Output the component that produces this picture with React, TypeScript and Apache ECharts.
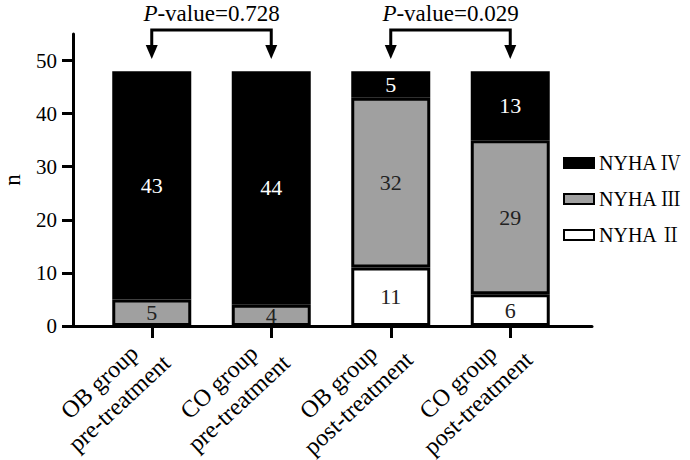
import React, { useEffect, useRef } from 'react';
import * as echarts from 'echarts';

const categories = [
  'OB group\npre-treatment',
  'CO group\npre-treatment',
  'OB group\npost-treatment',
  'CO group\npost-treatment',
];
const nyha2 = [0, 0, 11, 6];
const nyha3 = [5, 4, 32, 29];
const nyha4 = [43, 44, 5, 13];
const yTicks = [0, 10, 20, 30, 40, 50];
const seriesNames = ['NYHA Ⅱ', 'NYHA Ⅲ', 'NYHA Ⅳ'];
const legendOrder = ['NYHA Ⅳ', 'NYHA Ⅲ', 'NYHA Ⅱ'];
const comparisons = [
  { from: 0, to: 1, p: '0.728' },
  { from: 2, to: 3, p: '0.029' },
];

const FONT = "'Liberation Serif', 'Noto Serif CJK SC', 'Noto Sans CJK SC', serif";

export default function App() {
  const ref = useRef<HTMLDivElement>(null);
  useEffect(() => {
    document.body.style.margin = '0';
    if (!ref.current) return;
    const chart = echarts.init(ref.current, null, { renderer: 'svg' });
    const mkBar = (name: string, data: number[], color: string, labelColor: string) => ({
      name,
      type: 'bar',
      stack: 'total',
      xAxisIndex: 0,
      yAxisIndex: 0,
      barWidth: 79,
      data: data.map((v) => (v ? v : null)),
      itemStyle: { color, borderColor: '#000', borderWidth: 3 },
      label: {
        show: true,
        position: 'inside',
        formatter: (p: any) => (p.value ? String(p.value) : ''),
        color: labelColor,
        fontSize: 22,
        fontFamily: FONT,
      },
    });
    chart.setOption({
      animation: false,
      backgroundColor: '#fff',
      grid: [
        { left: 92, right: 120, top: 34, bottom: 134, containLabel: false, outerBoundsMode: 'none' },
        { left: 73, right: 98, top: 34, bottom: 134, containLabel: false, outerBoundsMode: 'none' },
      ],
      legend: {
        orient: 'vertical',
        left: 558,
        top: 148,
        icon: 'rect',
        itemWidth: 30,
        itemHeight: 10,
        itemGap: 16,
        data: legendOrder,
        textStyle: { fontSize: 20, fontFamily: FONT, color: '#000' },
      },
      xAxis: [
        {
          type: 'category',
          gridIndex: 0,
          data: categories,
          axisLine: { show: false },
          axisTick: { show: true, alignWithLabel: true, length: 12, lineStyle: { color: '#000', width: 3 } },
          axisLabel: {
            interval: 0,
            rotate: 43,
            align: 'center',
            verticalAlign: 'middle',
            margin: 27,
            padding: [0, 116, 0, 0],
            color: '#000',
            fontFamily: FONT,
            fontSize: 24,
            lineHeight: 29,
          },
        },
        {
          type: 'value',
          gridIndex: 1,
          min: 0,
          max: 1,
          axisLine: { show: true, onZero: false, lineStyle: { color: '#000', width: 3 } },
          axisTick: { show: false },
          axisLabel: { show: false },
          splitLine: { show: false },
        },
      ],
      yAxis: [
        {
          type: 'value',
          gridIndex: 0,
          min: 0,
          max: 55,
          interval: 10,
          offset: 19,
          name: 'n',
          nameLocation: 'middle',
          nameGap: 49,
          nameRotate: 90,
          nameTextStyle: { fontSize: 23, fontFamily: FONT, color: '#000' },
          axisLine: { show: true, lineStyle: { color: '#000', width: 3 } },
          axisTick: { show: true, length: 11, customValues: yTicks, lineStyle: { color: '#000', width: 3 } },
          axisLabel: { customValues: yTicks, margin: 16, fontSize: 21, color: '#000', fontFamily: FONT },
          splitLine: { show: false },
        },
        { type: 'value', gridIndex: 1, min: 0, max: 1, show: false },
      ],
      series: [
        mkBar(seriesNames[0], nyha2, '#ffffff', '#222'),
        mkBar(seriesNames[1], nyha3, '#a0a0a0', '#222'),
        mkBar(seriesNames[2], nyha4, '#000000', '#fff'),
        {
          type: 'custom',
          xAxisIndex: 0,
          yAxisIndex: 0,
          clip: false,
          silent: true,
          data: comparisons.map((c) => [c.from, c.to]),
          renderItem: (params: any, api: any) => {
            const x1 = api.coord([api.value(0), 0])[0];
            const x2 = api.coord([api.value(1), 0])[0];
            const yTop = api.coord([0, 55.75])[1];
            const yTip = api.coord([0, 50.3])[1];
            const yText = api.coord([0, 58.9])[1];
            const head = 14;
            const hw = 6;
            const c = comparisons[params.dataIndex];
            return {
              type: 'group',
              children: [
                {
                  type: 'polyline',
                  shape: { points: [[x1, yTip - head], [x1, yTop], [x2, yTop], [x2, yTip - head]] },
                  style: { stroke: '#000', lineWidth: 3, fill: null },
                },
                {
                  type: 'polygon',
                  shape: { points: [[x1 - hw, yTip - head], [x1 + hw, yTip - head], [x1, yTip]] },
                  style: { fill: '#000' },
                },
                {
                  type: 'polygon',
                  shape: { points: [[x2 - hw, yTip - head], [x2 + hw, yTip - head], [x2, yTip]] },
                  style: { fill: '#000' },
                },
                {
                  type: 'text',
                  x: (x1 + x2) / 2,
                  y: yText,
                  style: {
                    text: `{i|P}-value=${c.p}`,
                    rich: { i: { fontStyle: 'italic', fontSize: 23, fontFamily: FONT, fill: '#000' } },
                    fontSize: 23,
                    fontFamily: FONT,
                    fill: '#000',
                    align: 'center',
                    verticalAlign: 'middle',
                  },
                },
              ],
            };
          },
        },
      ],
    });
    return () => chart.dispose();
  }, []);
  return <div ref={ref} style={{ width: 690, height: 460 }} />;
}
